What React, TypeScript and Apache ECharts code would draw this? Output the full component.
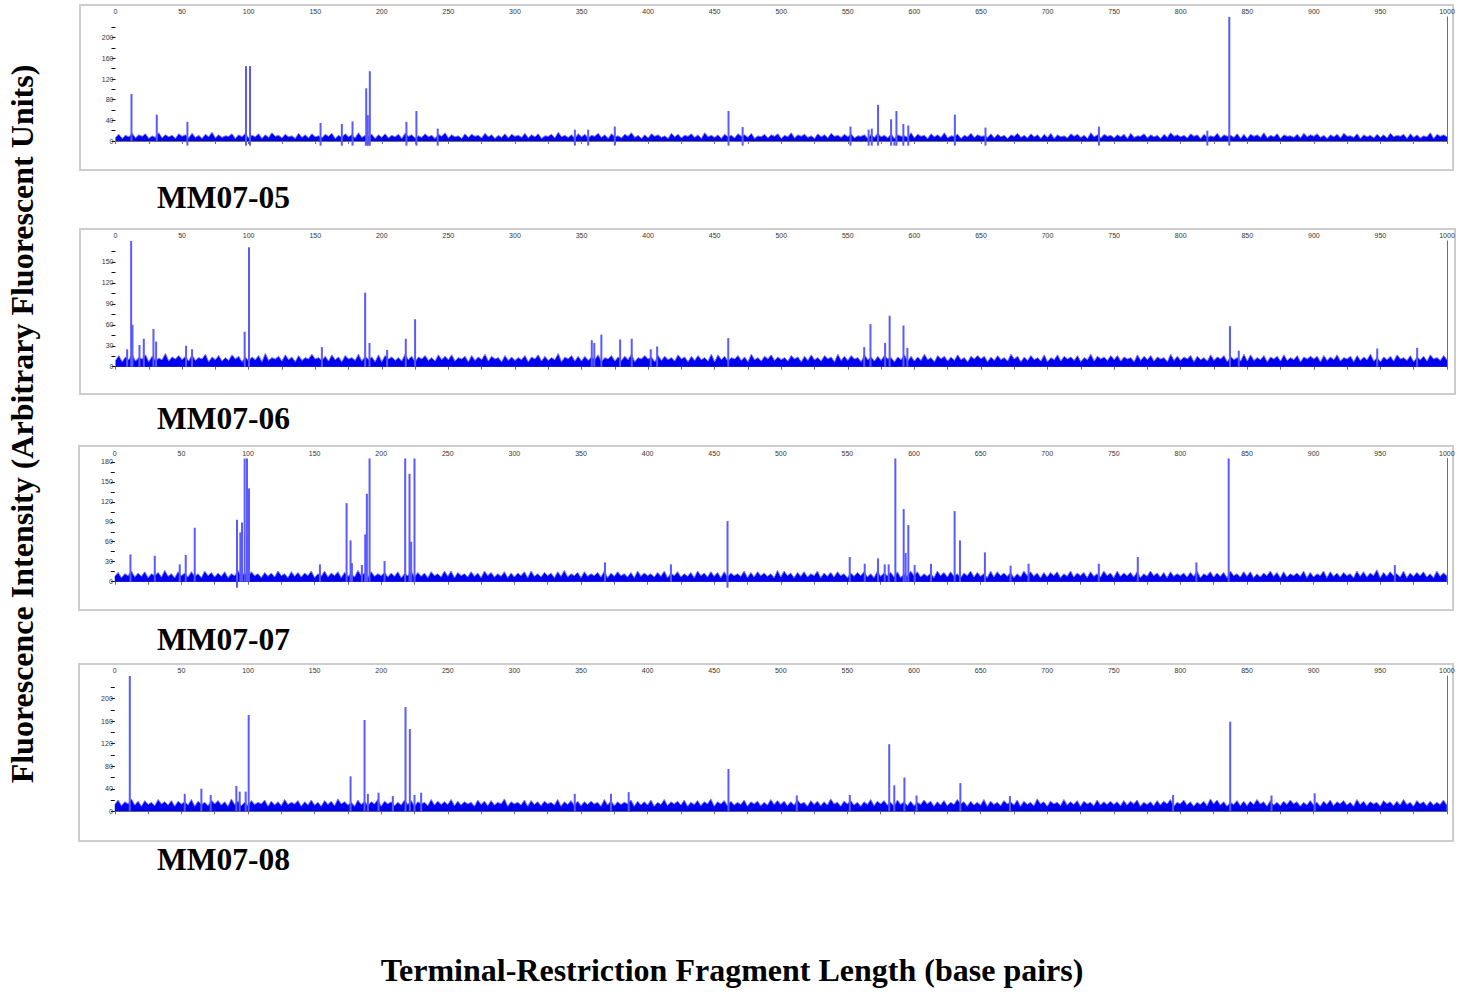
import React, { useEffect, useRef } from "react";
import * as echarts from "echarts";

// ---------- DATA ----------
const panelNames = ["MM07-05", "MM07-06", "MM07-07", "MM07-08"];
const yMax = [240, 180, 185, 240];
const yTickStep = [20, 15, 15, 20];
const yLabelStep = [40, 30, 30, 40];
const xMin = 0;
const xMax = 1000;
const xTickStep = 25;
const xLabelStep = 50;
const noiseStepBp = 2.5;

// baseline noise read every 2.5 bp (0..1000)
const noise05 = [
  7, 13, 5, 11, 8, 15, 6, 12, 9, 14, 5, 10, 7, 16, 6, 12, 8, 11, 5, 14,
  9, 12, 6, 15, 7, 11, 5, 13, 8, 17, 6, 12, 7, 10, 9, 14, 5, 12, 8, 15,
  6, 11, 8, 14, 5, 12, 7, 16, 9, 11, 6, 13, 8, 10, 5, 15, 7, 12, 6, 14,
  8, 10, 6, 13, 9, 15, 5, 11, 7, 14, 8, 12, 6, 16, 7, 11, 9, 13, 5, 12,
  7, 14, 6, 11, 8, 13, 5, 15, 9, 12, 6, 10, 7, 14, 8, 11, 5, 13, 9, 16,
  6, 12, 8, 10, 5, 14, 7, 13, 9, 11, 6, 15, 8, 12, 5, 11, 7, 14, 6, 13,
  9, 11, 7, 15, 6, 12, 8, 14, 5, 10, 9, 13, 6, 17, 8, 11, 7, 12, 5, 14,
  8, 13, 6, 11, 9, 15, 7, 12, 5, 14, 8, 10, 6, 13, 9, 16, 7, 11, 5, 12,
  6, 14, 9, 12, 7, 10, 5, 15, 8, 13, 6, 11, 9, 14, 7, 12, 5, 16, 8, 11,
  7, 12, 5, 13, 8, 11, 6, 14, 9, 12, 7, 15, 5, 10, 8, 13, 6, 12, 9, 14,
  5, 11, 8, 16, 6, 12, 9, 13, 7, 10, 5, 14, 8, 12, 6, 15, 9, 11, 7, 13,
  8, 14, 6, 10, 9, 12, 5, 13, 7, 15, 8, 11, 6, 14, 5, 12, 9, 10, 7, 16,
  6, 13, 9, 11, 5, 14, 8, 12, 7, 16, 6, 10, 9, 13, 5, 11, 8, 15, 7, 12,
  9, 10, 7, 14, 6, 13, 8, 11, 5, 12, 9, 15, 7, 11, 6, 14, 8, 12, 5, 13,
  7, 15, 5, 12, 8, 10, 6, 14, 9, 13, 7, 11, 5, 16, 8, 12, 6, 13, 9, 11,
  6, 12, 8, 13, 5, 15, 7, 10, 9, 14, 6, 12, 8, 11, 5, 13, 7, 16, 9, 12,
  8, 11, 6, 14, 9, 12, 5, 13, 7, 10, 8, 15, 6, 12, 9, 11, 7, 14, 5, 13,
  5, 13, 9, 12, 7, 16, 6, 11, 8, 14, 5, 12, 9, 10, 7, 13, 6, 15, 8, 12,
  9, 14, 7, 11, 5, 12, 8, 13, 6, 15, 9, 10, 7, 14, 5, 12, 8, 11, 6, 13,
  7, 12, 6, 15, 8, 11, 9, 13, 5, 14, 7, 12, 6, 10, 8, 16, 5, 13, 9, 12,
  8,
];
const noise06 = [
  9, 16, 7, 14, 10, 18, 8, 13, 11, 17, 7, 15, 9, 12, 10, 19, 8, 14, 11, 16,
  10, 15, 8, 17, 9, 13, 11, 18, 7, 14, 10, 16, 8, 13, 9, 17, 11, 15, 7, 14,
  8, 14, 10, 16, 7, 19, 9, 13, 11, 15, 8, 17, 10, 14, 7, 16, 9, 13, 11, 18,
  11, 13, 9, 15, 8, 17, 10, 14, 7, 16, 11, 13, 9, 18, 8, 15, 10, 14, 7, 17,
  7, 16, 11, 14, 9, 13, 8, 18, 10, 15, 7, 14, 11, 16, 9, 13, 8, 17, 10, 15,
  10, 17, 8, 13, 11, 15, 7, 16, 9, 14, 10, 18, 8, 15, 11, 13, 7, 16, 9, 14,
  9, 13, 10, 16, 7, 14, 11, 17, 8, 15, 9, 13, 10, 19, 7, 14, 11, 16, 8, 15,
  8, 15, 9, 14, 10, 17, 7, 13, 11, 16, 8, 14, 9, 15, 10, 18, 7, 13, 11, 16,
  11, 14, 7, 16, 9, 15, 10, 13, 8, 17, 11, 14, 7, 15, 9, 16, 10, 13, 8, 18,
  7, 17, 10, 15, 8, 13, 11, 16, 9, 14, 7, 18, 10, 13, 8, 15, 11, 17, 9, 14,
  10, 13, 8, 16, 11, 14, 7, 15, 9, 17, 10, 13, 8, 16, 11, 14, 7, 18, 9, 15,
  9, 16, 11, 13, 7, 17, 10, 14, 8, 15, 9, 16, 11, 13, 7, 14, 10, 17, 8, 15,
  8, 14, 9, 18, 10, 13, 7, 16, 11, 15, 8, 14, 9, 17, 10, 13, 7, 15, 11, 16,
  11, 15, 7, 14, 9, 16, 10, 13, 8, 18, 11, 15, 7, 14, 9, 16, 10, 13, 8, 17,
  7, 13, 10, 17, 8, 15, 11, 14, 9, 16, 7, 13, 10, 18, 8, 15, 11, 14, 9, 16,
  10, 16, 8, 14, 11, 13, 7, 17, 9, 15, 10, 16, 8, 14, 11, 13, 7, 18, 9, 15,
  9, 14, 11, 16, 7, 15, 10, 13, 8, 17, 9, 14, 11, 16, 7, 15, 10, 13, 8, 18,
  8, 17, 9, 13, 10, 16, 7, 14, 11, 15, 8, 17, 9, 13, 10, 16, 7, 14, 11, 15,
  11, 15, 7, 16, 9, 14, 10, 17, 8, 13, 11, 15, 7, 16, 9, 14, 10, 18, 8, 13,
  7, 14, 10, 15, 8, 17, 11, 13, 9, 16, 7, 14, 10, 15, 8, 17, 11, 13, 9, 16,
  10,
];
const noise07 = [
  8, 14, 6, 12, 9, 16, 7, 13, 8, 15, 6, 12, 9, 14, 7, 17, 8, 12, 6, 15,
  9, 13, 7, 15, 8, 12, 6, 16, 9, 14, 7, 13, 8, 15, 6, 12, 9, 17, 7, 14,
  7, 15, 9, 12, 6, 14, 8, 13, 7, 16, 9, 12, 6, 15, 8, 14, 7, 13, 9, 16,
  6, 12, 8, 16, 7, 13, 9, 15, 6, 14, 8, 12, 7, 17, 9, 13, 6, 15, 8, 12,
  9, 14, 7, 13, 8, 15, 6, 12, 9, 16, 7, 14, 8, 13, 6, 15, 9, 12, 7, 16,
  8, 16, 6, 14, 9, 12, 7, 15, 8, 13, 6, 16, 9, 14, 7, 12, 8, 15, 6, 13,
  7, 13, 9, 15, 6, 16, 8, 12, 7, 14, 9, 13, 6, 15, 8, 17, 7, 12, 9, 14,
  6, 15, 8, 12, 9, 14, 7, 16, 6, 13, 8, 15, 9, 12, 7, 14, 6, 16, 8, 13,
  9, 12, 7, 14, 8, 16, 6, 13, 9, 15, 7, 12, 8, 14, 6, 16, 9, 13, 7, 15,
  8, 14, 6, 15, 7, 13, 9, 12, 8, 16, 6, 14, 7, 15, 9, 13, 8, 12, 6, 17,
  7, 16, 9, 13, 6, 14, 8, 15, 7, 12, 9, 16, 6, 13, 8, 14, 7, 15, 9, 12,
  6, 13, 8, 14, 9, 15, 7, 12, 6, 16, 8, 13, 9, 14, 7, 15, 6, 12, 8, 16,
  9, 15, 7, 12, 8, 13, 6, 16, 9, 14, 7, 15, 8, 12, 6, 13, 9, 16, 7, 14,
  8, 12, 6, 16, 7, 15, 9, 13, 8, 14, 6, 12, 7, 16, 9, 15, 8, 13, 6, 14,
  7, 14, 9, 15, 6, 12, 8, 16, 7, 13, 9, 14, 6, 15, 8, 12, 7, 16, 9, 13,
  6, 16, 8, 13, 9, 14, 7, 15, 6, 12, 8, 16, 9, 13, 7, 14, 6, 15, 8, 12,
  9, 13, 7, 14, 8, 16, 6, 12, 9, 15, 7, 13, 8, 14, 6, 16, 9, 12, 7, 15,
  8, 15, 6, 12, 7, 13, 9, 16, 8, 14, 6, 15, 7, 12, 9, 13, 8, 16, 6, 14,
  7, 12, 9, 16, 6, 15, 8, 13, 7, 14, 9, 12, 6, 16, 8, 15, 7, 13, 9, 18,
  6, 14, 8, 15, 9, 12, 7, 16, 6, 13, 8, 14, 9, 15, 7, 12, 6, 16, 8, 13,
  9,
];
const noise08 = [
  12, 20, 10, 17, 13, 22, 11, 18, 9, 19, 12, 16, 10, 21, 13, 17, 11, 19, 9, 18,
  13, 17, 11, 21, 9, 18, 12, 16, 10, 20, 13, 19, 11, 17, 9, 22, 12, 18, 10, 16,
  10, 19, 12, 16, 13, 20, 9, 18, 11, 17, 10, 21, 12, 16, 13, 19, 9, 17, 11, 20,
  11, 16, 9, 19, 12, 18, 10, 22, 13, 17, 11, 16, 9, 20, 12, 18, 10, 17, 13, 21,
  9, 18, 13, 17, 10, 16, 11, 20, 12, 19, 9, 17, 13, 16, 10, 21, 11, 18, 12, 17,
  12, 21, 10, 18, 11, 17, 13, 16, 9, 20, 12, 18, 10, 19, 11, 16, 13, 22, 9, 17,
  13, 16, 11, 20, 9, 19, 12, 17, 10, 18, 13, 16, 11, 21, 9, 17, 12, 19, 10, 18,
  10, 17, 12, 18, 13, 16, 9, 21, 11, 19, 10, 17, 12, 16, 13, 20, 9, 18, 11, 17,
  11, 20, 9, 16, 12, 21, 10, 17, 13, 18, 11, 20, 9, 16, 12, 19, 10, 17, 13, 22,
  9, 17, 13, 19, 10, 18, 11, 16, 12, 20, 9, 17, 13, 18, 10, 16, 11, 21, 12, 19,
  12, 18, 10, 17, 11, 20, 13, 16, 9, 19, 12, 18, 10, 17, 11, 22, 13, 16, 9, 18,
  13, 19, 11, 16, 9, 17, 12, 21, 10, 18, 13, 19, 11, 16, 9, 20, 12, 17, 10, 18,
  10, 16, 12, 20, 13, 18, 9, 17, 11, 19, 10, 16, 12, 21, 13, 17, 9, 18, 11, 16,
  11, 21, 9, 18, 12, 16, 10, 19, 13, 17, 11, 20, 9, 18, 12, 16, 10, 22, 13, 17,
  9, 18, 13, 16, 10, 21, 11, 17, 12, 19, 9, 18, 13, 16, 10, 20, 11, 17, 12, 18,
  12, 17, 10, 19, 11, 18, 13, 20, 9, 16, 12, 17, 10, 19, 11, 18, 13, 21, 9, 16,
  13, 20, 11, 17, 9, 16, 12, 18, 10, 22, 13, 20, 11, 17, 9, 16, 12, 19, 10, 18,
  10, 18, 12, 21, 13, 17, 9, 19, 11, 16, 10, 18, 12, 20, 13, 17, 9, 16, 11, 19,
  11, 16, 9, 18, 12, 20, 10, 17, 13, 19, 11, 16, 9, 21, 12, 18, 10, 17, 13, 16,
  9, 19, 13, 17, 10, 18, 11, 21, 12, 16, 9, 19, 13, 17, 10, 18, 11, 16, 12, 20,
  11,
];

// peaks: fragment length (bp) and height (AFU); 300 = off scale
const peakBp05 = [12, 31, 54, 98, 101, 154, 170, 178, 188.3, 189.5, 191, 218.5, 226, 242, 345, 355, 375, 460.4, 471, 552, 565.6, 568, 572.7, 582.5, 586.5, 591.7, 595.4, 630.4, 653.4, 738.6, 820, 836.5];
const peakH05 = [91, 51, 37, 145, 145, 35, 33, 38, 102, 50, 135, 37, 58, 24, 22, 22, 28, 58, 27, 28, 22, 24, 70, 42, 58, 33, 30, 51, 26, 28, 20, 300];
const dipBp05 = [54, 98, 101, 154, 170, 178, 188, 189, 190, 191, 218.5, 226, 242, 345, 355, 375, 460.4, 471, 552, 565.6, 568, 572.7, 582.5, 585, 586.5, 591.7, 595.4, 630.4, 653.4, 738.6, 820, 836.5];

const peakBp06 = [8.75, 11.75, 12.75, 18, 21.25, 28.5, 30.5, 53, 57.5, 97, 100.25, 155, 187.5, 190.75, 204, 218, 225, 357.7, 359.6, 364.9, 379, 387.7, 402, 406.8, 460.2, 562.3, 567, 578, 581.4, 591.8, 594.7, 837, 843.6, 947.6, 977.6];
const peakH06 = [25, 300, 60, 31, 40, 54, 36, 30, 25, 50, 171, 28, 106, 34, 24, 40, 68, 38, 34, 46, 39, 40, 25, 29, 41, 28, 61, 34, 73, 59, 27, 58, 23, 26, 27];
const dipBp06: number[] = [];

const peakBp07 = [11.75, 30, 48.75, 53.25, 60, 91.75, 94.25, 95.5, 97.5, 99.25, 100.75, 154, 174, 177, 178, 185.5, 188, 189.25, 191.25, 202.5, 218, 221.25, 222.5, 225, 368, 417.5, 460, 551.75, 563, 573, 578, 581, 586, 592.25, 593.75, 595.75, 600.5, 612.75, 630.5, 634.5, 653.25, 672.5, 686, 738.75, 768, 812, 836.25, 961];
const peakH07 = [41, 39, 26, 40, 81, 93, 74, 89, 300, 300, 140, 26, 118, 62, 28, 25, 71, 132, 300, 31, 300, 162, 60, 300, 29, 26, 91, 37, 27, 35, 26, 26, 300, 109, 43, 85, 25, 27, 106, 62, 44, 24, 27, 27, 37, 29, 300, 25];
const dipBp07 = [91.75, 460];

const peakBp08 = [11.25, 52.5, 65, 72, 91.25, 93.75, 98.25, 100.5, 177, 187.5, 190, 198, 208.75, 218.25, 221.5, 225, 230, 345.3, 372.5, 385.8, 460.7, 512, 551.8, 581.4, 585.2, 592.8, 601.9, 634.8, 672, 794.5, 837.4, 868.4, 900.8];
const peakH08 = [300, 31, 40, 29, 45, 35, 35, 171, 62, 162, 31, 33, 27, 185, 146, 29, 33, 31, 31, 34, 75, 28, 29, 119, 46, 60, 28, 50, 27, 29, 159, 28, 32];
const dipBp08: number[] = [];

const dipDepth = -9;

const noiseSets = [noise05, noise06, noise07, noise08];
const peakBpSets = [peakBp05, peakBp06, peakBp07, peakBp08];
const peakHSets = [peakH05, peakH06, peakH07, peakH08];
const dipSets = [dipBp05, dipBp06, dipBp07, dipBp08];

const yTitle = "Fluorescence Intensity (Arbitrary Fluorescent Units)";
const xTitle = "Terminal-Restriction Fragment Length (base pairs)";

// ---------- LAYOUT ----------
const grids = [
  { left: 115.5, top: 17, width: 1331.5, height: 124 },
  { left: 115.5, top: 241, width: 1331.5, height: 125.7 },
  { left: 114.8, top: 458.5, width: 1332, height: 123.2 },
  { left: 114.8, top: 676, width: 1332, height: 135.3 },
];
const frames = [
  { x: 80, y: 5, w: 1373, h: 165 },
  { x: 80, y: 229, w: 1375, h: 165 },
  { x: 79, y: 446, w: 1374, h: 164 },
  { x: 79, y: 664, w: 1374, h: 177 },
];
const nameY = [197, 418, 639, 859];
const SERIF = '"Liberation Serif", "Times New Roman", serif';

export default function App() {
  const ref = useRef<HTMLDivElement>(null);

  useEffect(() => {
    if (!ref.current) return;
    const chart = echarts.init(ref.current, undefined, { renderer: "svg" });

    const xAxis: any[] = [];
    const yAxis: any[] = [];
    const series: any[] = [];

    grids.forEach((g, i) => {
      xAxis.push({
        gridIndex: i,
        type: "value",
        position: "top",
        min: xMin,
        max: xMax,
        interval: xTickStep,
        axisLine: { show: true, lineStyle: { color: "#6e6e6e", width: 1 } },
        axisTick: { show: true, inside: true, length: 3, lineStyle: { color: "#6e6e6e" } },
        axisLabel: {
          fontSize: 7,
          color: "#333",
          margin: 2,
          fontFamily: "Arial, sans-serif",
          formatter: (v: number) => (v % xLabelStep === 0 ? String(v) : ""),
        },
        splitLine: { show: false },
      });
      yAxis.push({
        gridIndex: i,
        type: "value",
        position: "left",
        min: 0,
        max: yMax[i],
        interval: yTickStep[i],
        axisLine: { show: false },
        axisTick: { show: true, length: 4, lineStyle: { color: "#111", width: 1 } },
        axisLabel: {
          fontSize: 7,
          color: "#333",
          margin: 2,
          showMaxLabel: false,
          fontFamily: "Arial, sans-serif",
          formatter: (v: number) => (v % yLabelStep[i] === 0 ? String(v) : ""),
        },
        splitLine: { show: false },
      });
      yAxis.push({
        gridIndex: i,
        type: "value",
        position: "right",
        min: 0,
        max: yMax[i],
        axisLine: { show: true, lineStyle: { color: "#6e6e6e", width: 1 } },
        axisTick: { show: false },
        axisLabel: { show: false },
        splitLine: { show: false },
      });

      const noise = noiseSets[i].map((v, k) => [xMin + k * noiseStepBp, v]);
      series.push({
        type: "line",
        xAxisIndex: i,
        yAxisIndex: i * 2,
        data: noise,
        showSymbol: false,
        symbol: "none",
        lineStyle: { color: "#7a7aff", width: 1 },
        areaStyle: { color: "#0000f0", opacity: 1 },
        z: 2,
      });

      const bars: any[] = peakBpSets[i].map((bp, k) => [bp, Math.min(peakHSets[i][k], yMax[i])]);
      dipSets[i].forEach((bp) => bars.push([bp, dipDepth]));
      series.push({
        type: "bar",
        xAxisIndex: i,
        yAxisIndex: i * 2,
        data: bars,
        barWidth: 2,
        clip: false,
        itemStyle: { color: "#5a5aff" },
        z: 3,
      });
    });

    const graphic: any[] = [];
    frames.forEach((f) => {
      graphic.push({
        type: "rect",
        shape: { x: f.x, y: f.y, width: f.w, height: f.h },
        style: { fill: "none", stroke: "#cdcdcd", lineWidth: 2 },
        silent: true,
        z: 0,
      });
    });
    panelNames.forEach((name, i) => {
      graphic.push({
        type: "text",
        x: 157,
        y: nameY[i],
        style: {
          text: name,
          font: `bold 31.5px ${SERIF}`,
          fill: "#000",
          align: "left",
          verticalAlign: "middle",
          textAlign: "left",
          textVerticalAlign: "middle",
        },
      });
    });
    graphic.push({
      type: "text",
      x: 22,
      y: 424,
      rotation: Math.PI / 2,
      style: {
        text: yTitle,
        font: `bold 32px ${SERIF}`,
        fill: "#000",
        align: "center",
        verticalAlign: "middle",
        textAlign: "center",
        textVerticalAlign: "middle",
      },
    });
    graphic.push({
      type: "text",
      x: 732,
      y: 970,
      style: {
        text: xTitle,
        font: `bold 32px ${SERIF}`,
        fill: "#000",
        align: "center",
        verticalAlign: "middle",
        textAlign: "center",
        textVerticalAlign: "middle",
      },
    });

    chart.setOption({
      animation: false,
      backgroundColor: "#ffffff",
      grid: grids.map((g) => ({ ...g, containLabel: false })),
      xAxis,
      yAxis,
      series,
      graphic,
    });

    return () => chart.dispose();
  }, []);

  return (
    <div
      ref={ref}
      style={{ position: "absolute", left: 0, top: 0, width: 1466, height: 992 }}
    />
  );
}
